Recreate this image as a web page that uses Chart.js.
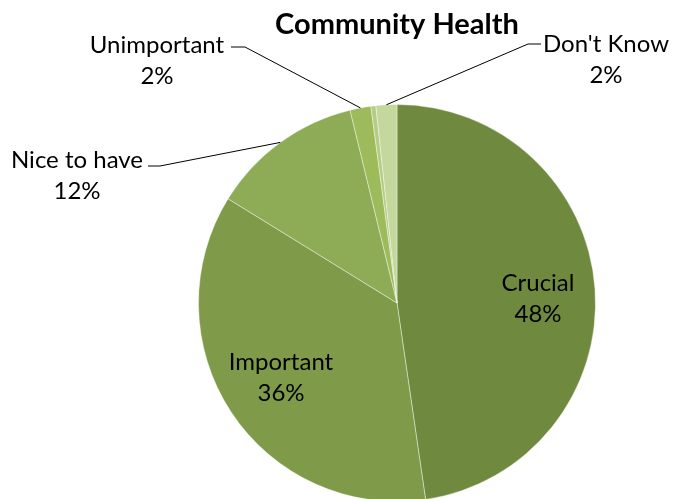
<!DOCTYPE html>
<html>
<head>
<meta charset="utf-8">
<script src="https://cdn.jsdelivr.net/npm/chart.js@4/dist/chart.umd.min.js"></script>
<style>
  html, body { margin: 0; padding: 0; background: #fff; overflow: hidden; }
  #wrap { position: absolute; left: 0; top: 0; width: 673px; height: 505px; }
</style>
</head>
<body>
<div id="wrap"><canvas id="c" width="673" height="505"></canvas></div>
<script>
// Survey answers for "Community Health" (percent of respondents)
const categories = ["Crucial", "Important", "Nice to have", "Unimportant", "No answer", "Don't Know"];
const shares = [47.7, 36.1, 12.4, 1.7, 0.4, 1.7];
const sliceColors = ["#6f8a3e", "#7f9b4a", "#8eab55", "#9dbb5b", "#b4cc84", "#c4d79d"];
const showLabel = [true, true, true, true, false, true];

const FONT = "Lato, 'Open Sans', sans-serif";

// Label placement: inside labels sit on the slice, outside labels get a leader line
const labelSpots = {
  "Crucial":      { x: 538, y: 283 },
  "Important":    { x: 281, y: 362 },
  "Nice to have": { x: 77,  y: 160, hook: [[148, 166], [160, 166]] },
  "Unimportant":  { x: 157, y: 45,  hook: [[231, 47], [245, 47]] },
  "Don't Know":   { x: 606, y: 44,  hook: [[541, 44], [528, 44]] }
};

const labelPlugin = {
  id: "sliceLabels",
  afterDatasetsDraw(chart) {
    const ctx = chart.ctx;
    const meta = chart.getDatasetMeta(0);
    const total = shares.reduce((a, b) => a + b, 0);
    ctx.save();
    ctx.fillStyle = "#000";
    ctx.strokeStyle = "#000";
    ctx.lineWidth = 1;
    ctx.textAlign = "center";
    ctx.textBaseline = "middle";
    ctx.font = "24px " + FONT;
    meta.data.forEach((arc, i) => {
      if (!showLabel[i]) return;
      const name = categories[i];
      const spot = labelSpots[name];
      const pct = Math.round(shares[i] / total * 100) + "%";
      if (spot.hook) {
        const p = arc.getProps(["x", "y", "startAngle", "endAngle", "outerRadius"], true);
        const mid = (p.startAngle + p.endAngle) / 2;
        const ax = p.x + Math.cos(mid) * p.outerRadius;
        const ay = p.y + Math.sin(mid) * p.outerRadius;
        ctx.beginPath();
        ctx.moveTo(spot.hook[0][0], spot.hook[0][1]);
        ctx.lineTo(spot.hook[1][0], spot.hook[1][1]);
        ctx.lineTo(ax, ay);
        ctx.stroke();
      }
      ctx.fillText(name, spot.x, spot.y);
      ctx.fillText(pct, spot.x, spot.y + 31);
    });
    // chart title
    ctx.font = "bold 29px " + FONT;
    ctx.fillText("Community Health", 397, 25);
    ctx.restore();
  }
};

new Chart(document.getElementById("c"), {
  type: "pie",
  data: {
    labels: categories,
    datasets: [{
      data: shares,
      backgroundColor: sliceColors,
      borderColor: "rgba(255,255,255,0.4)",
      borderWidth: 1
    }]
  },
  options: {
    responsive: false,
    animation: false,
    layout: { padding: { top: 104, bottom: 3, left: 198, right: 77 } },
    plugins: {
      legend: { display: false },
      tooltip: { enabled: false },
      title: { display: false }
    }
  },
  plugins: [labelPlugin]
});
</script>
</body>
</html>
